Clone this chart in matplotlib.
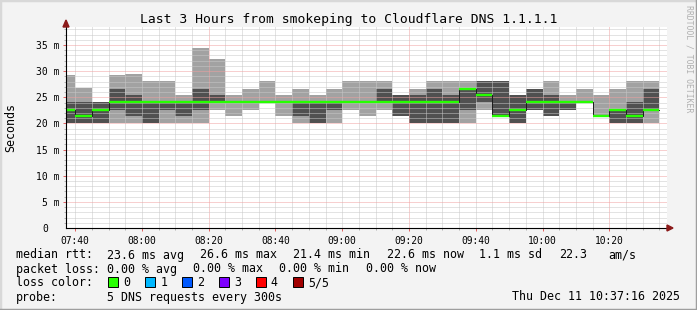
import matplotlib
matplotlib.use('Agg')
import matplotlib.pyplot as plt
from matplotlib.patches import Rectangle, Polygon
import numpy as np

plt.rcParams['font.family'] = 'DejaVu Sans Mono'

W, H = 697, 310

# time axis in minutes after midnight, last 3 hours
START = 7 * 60 + 37 + 16 / 60
END = START + 180

# five sorted pings per 5 min step (ms), first step is partial (07:37:16 - 07:40)
p1 = [20.0, 20.0, 20.0, 20.0, 20.0, 20.0, 20.0, 20.0, 20.0, 22.6, 21.4, 22.6,
      24.1, 21.4, 20.0, 20.0, 20.0, 22.6, 21.4, 22.6, 21.4, 20.0, 20.0, 20.0,
      20.0, 22.6, 21.4, 20.0, 22.6, 21.4, 22.6, 24.1, 21.4, 20.0, 20.0, 20.0]
p2 = [20.0, 20.0, 20.0, 22.6, 21.4, 20.0, 22.6, 21.4, 22.6, 24.1, 24.1, 24.1,
      24.1, 24.1, 21.4, 20.0, 22.6, 24.1, 24.1, 24.1, 21.4, 20.0, 20.0, 20.0,
      22.6, 24.1, 21.4, 20.0, 22.6, 21.4, 22.6, 24.1, 21.4, 20.0, 20.0, 22.6]
median = [22.6, 21.4, 22.6, 24.1, 24.1, 24.1, 24.1, 24.1, 24.1, 24.1, 24.1, 24.1,
          24.1, 24.1, 24.1, 24.1, 24.1, 24.1, 24.1, 24.1, 24.1, 24.1, 24.1, 24.1,
          26.6, 25.5, 21.4, 22.6, 24.1, 24.1, 24.1, 24.1, 21.4, 22.6, 21.4, 22.6]
p4 = [24.1, 24.1, 24.1, 26.6, 25.4, 24.1, 24.1, 24.1, 26.6, 25.4, 24.1, 24.1,
      24.1, 24.1, 24.1, 24.1, 24.1, 24.1, 24.1, 26.6, 25.4, 25.4, 26.6, 25.4,
      26.6, 28.1, 28.1, 25.4, 26.6, 25.4, 24.1, 24.1, 21.4, 22.6, 24.1, 26.6]
p5 = [29.3, 26.8, 24.1, 29.3, 29.5, 28.1, 28.1, 25.4, 34.4, 32.3, 25.4, 26.6,
      28.1, 25.4, 26.6, 25.4, 26.6, 28.1, 28.1, 28.1, 25.4, 26.6, 28.1, 28.1,
      28.1, 28.1, 28.1, 25.4, 26.6, 28.1, 25.4, 26.6, 25.4, 26.6, 28.1, 28.1]

yticks = [5, 10, 15, 20, 25, 30, 35]
ytick_labels = ['5 m', '10 m', '15 m', '20 m', '25 m', '30 m', '35 m']
xticks = [460, 480, 500, 520, 540, 560, 580, 600, 620]
xtick_labels = ['07:40', '08:00', '08:20', '08:40', '09:00', '09:20', '09:40', '10:00', '10:20']

loss_labels = ['0', '1', '2', '3', '4', '5/5']
loss_colors = ['#26ff00', '#00b8ff', '#0059ff', '#7e00ff', '#ff0000', '#a10000']

LIGHT = '#a2a2a2'
DARK = '#505050'
GREEN = '#26ff00'
YTOP = 38.44


def px(x, y):
    return (x / W, 1 - y / H)


fig = plt.figure(figsize=(W / 100, H / 100), dpi=100, facecolor='#f3f3f3')
ax = fig.add_axes([66 / W, 82 / H, 601 / W, 201 / H])
ax.set_facecolor('white')
ax.set_xlim(START, END)
ax.set_ylim(0, YTOP)

edges = np.r_[START, np.arange(460, 636, 5)]
left = edges[:-1]
width = np.diff(edges)
p1, p2, med, p4, p5 = map(np.array, (p1, p2, median, p4, p5))

# smoke
ax.bar(left, p5 - p1, width=width, bottom=p1, align='edge', color=LIGHT, lw=0, zorder=2)
ax.bar(left, p4 - p2, width=width, bottom=p2, align='edge', color=DARK, lw=0, zorder=2)

# grid, drawn over the smoke like rrdtool does
dot = (0, (1, 1))
minor_x = [m for m in range(460, 640, 5) if m not in (500, 560, 620)]
ax.vlines(minor_x, 0, YTOP, colors='#c8c8c8', linestyles=dot, lw=0.72, zorder=3)
ax.vlines([500, 560, 620], 0, YTOP, colors='#f0a0a0', linestyles=dot, lw=0.72, zorder=3)
minor_y = [v for v in range(1, 39) if v % 5]
ax.hlines(minor_y, START, END, colors='#c8c8c8', linestyles=dot, lw=0.72, zorder=3)
ax.hlines(yticks, START, END, colors='#f0a0a0', linestyles=dot, lw=0.72, zorder=3)

# median
ax.step(edges, np.r_[med, med[-1]], where='post', color='#1a1a1a', lw=0.7, zorder=4)
ax.hlines(med, edges[:-1], edges[1:], colors=GREEN, lw=1.7, zorder=5)

for s in ax.spines.values():
    s.set_visible(False)

ax.set_xticks(xticks)
ax.set_xticklabels(xtick_labels, fontsize=6.9)
ax.set_xticks(np.arange(460, 640, 5), minor=True)
ax.set_yticks(yticks)
ax.set_yticklabels(ytick_labels, fontsize=7)
ax.set_yticks(np.arange(1, 39), minor=True)
ax.tick_params(axis='x', which='major', length=2, width=0.7, color='#e06060', pad=3.6)
ax.tick_params(axis='y', which='major', length=2, width=0.7, color='#e06060', pad=2.9)
ax.tick_params(which='minor', length=1.5, width=0.7, color='#b0b0b0')
ax.annotate('0', xy=(0, 0), xycoords=('axes fraction', 'data'), xytext=(-18 * 0.72, 0),
            textcoords='offset points', ha='right', va='center_baseline', fontsize=7)

# axes with arrows
ax.plot([0, 0], [0, 1.02], transform=ax.transAxes, clip_on=False, color='black', lw=0.8, zorder=6)
ax.plot([0, 1.003], [0, 0], transform=ax.transAxes, clip_on=False, color='black', lw=0.8, zorder=6)
fig.add_artist(Polygon([px(63, 27), px(69, 27), px(66, 20)], closed=True,
                       transform=fig.transFigure, color='#8b1a1a'))
fig.add_artist(Polygon([px(667, 225), px(667, 231), px(673, 228)], closed=True,
                       transform=fig.transFigure, color='#8b1a1a'))

fig.text(*px(348.5, 23.5), 'Last 3 Hours from smokeping to Cloudflare DNS 1.1.1.1',
         ha='center', va='baseline', fontsize=9.4)
fig.text(*px(11, 128), 'Seconds', rotation=90, ha='center', va='center', fontsize=8.4)
fig.text(*px(688.5, 5), 'RRDTOOL / TOBI OETIKER', rotation=270, ha='center', va='top',
         fontsize=5.9, color='#b0b0b0')

# legend
LF = 8.4
rows = [
    (258.5, [(16, 'median rtt:'), (107, '23.6 ms avg'), (200, '26.6 ms max'),
             (293, '21.4 ms min'), (387, '22.6 ms now'), (479, '1.1 ms sd'),
             (559, '22.3'), (608, 'am/s')]),
    (272.5, [(16, 'packet loss:'), (107, '0.00 % avg'), (193, '0.00 % max'),
             (279, '0.00 % min'), (366, '0.00 % now')]),
    (286.5, [(16, 'loss color:')]),
    (300.5, [(16, 'probe:'), (107, '5 DNS requests every 300s')]),
]
for y, items in rows:
    for x, s in items:
        fig.text(*px(x, y), s, ha='left', va='baseline', fontsize=LF)

for i, (lab, col) in enumerate(zip(loss_labels, loss_colors)):
    x0 = 108.3 + i * 36.9
    fig.add_artist(Rectangle(px(x0, 286.7), 10 / W, 10 / H, transform=fig.transFigure,
                             facecolor=col, edgecolor='black', lw=0.7))
    fig.text(*px(x0 + 15, 286.5), lab, ha='left', va='baseline', fontsize=LF)

fig.text(*px(680, 300.5), 'Thu Dec 11 10:37:16 2025', ha='right', va='baseline', fontsize=LF)

# 3d-ish frame
fig.add_artist(plt.Line2D([0, 0, 1], [0, 1, 1], transform=fig.transFigure, color='#d8d8d8', lw=2.5))
fig.add_artist(plt.Line2D([0, 1, 1], [0, 0, 1], transform=fig.transFigure, color='#9e9e9e', lw=2.5))

fig.savefig('out.png', dpi=100, facecolor=fig.get_facecolor())
